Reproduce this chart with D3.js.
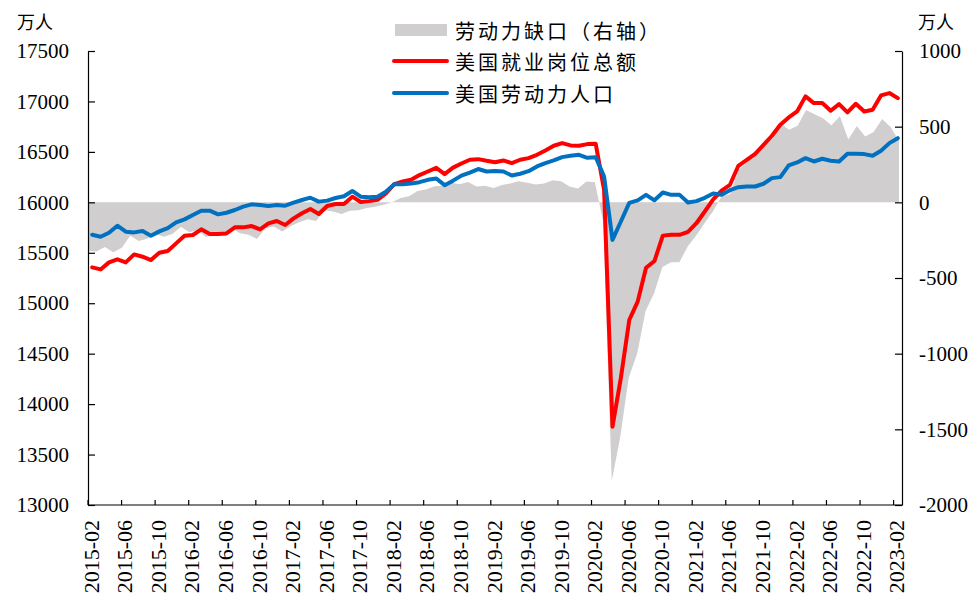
<!DOCTYPE html>
<html><head><meta charset="utf-8">
<script src="https://cdn.jsdelivr.net/npm/d3@7"></script>
<style>
html,body{margin:0;padding:0;background:#fff;}
svg{display:block;}
</style></head><body>
<svg id="chart" width="980" height="601"></svg>
<script>
const months = [
"2015-02","2015-03","2015-04","2015-05","2015-06","2015-07","2015-08","2015-09","2015-10","2015-11","2015-12",
"2016-01","2016-02","2016-03","2016-04","2016-05","2016-06","2016-07","2016-08","2016-09","2016-10","2016-11","2016-12",
"2017-01","2017-02","2017-03","2017-04","2017-05","2017-06","2017-07","2017-08","2017-09","2017-10","2017-11","2017-12",
"2018-01","2018-02","2018-03","2018-04","2018-05","2018-06","2018-07","2018-08","2018-09","2018-10","2018-11","2018-12",
"2019-01","2019-02","2019-03","2019-04","2019-05","2019-06","2019-07","2019-08","2019-09","2019-10","2019-11","2019-12",
"2020-01","2020-02","2020-03","2020-04","2020-05","2020-06","2020-07","2020-08","2020-09","2020-10","2020-11","2020-12",
"2021-01","2021-02","2021-03","2021-04","2021-05","2021-06","2021-07","2021-08","2021-09","2021-10","2021-11","2021-12",
"2022-01","2022-02","2022-03","2022-04","2022-05","2022-06","2022-07","2022-08","2022-09","2022-10","2022-11","2022-12",
"2023-01","2023-02"];

// 美国就业岗位总额 (万人, left axis)
const jobs = [
15355,15335,15405,15435,15405,15484,15461,15428,15501,15517,15593,
15669,15676,15732,15686,15686,15692,15752,15752,15765,15732,15792,15815,
15775,15841,15891,15934,15884,15964,15983,15983,16056,16003,16012,16025,
16088,16180,16207,16223,16270,16306,16342,16280,16344,16385,16422,16428,
16412,16398,16415,16389,16422,16438,16471,16514,16561,16587,16564,16561,
16577,16580,16124,13776,14260,14834,15016,15352,15418,15670,15678,15678,
15708,15793,15909,16030,16115,16174,16362,16422,16481,16570,16660,16769,
16842,16901,17050,16984,16984,16908,16974,16891,16977,16901,16918,17060,
17083,17033];

// 美国劳动力人口 (万人, left axis)
const laborForce = [
15679,15659,15699,15768,15709,15702,15716,15669,15712,15745,15802,
15831,15874,15917,15917,15881,15897,15924,15957,15980,15974,15964,15974,
15967,15997,16023,16046,16007,16017,16043,16060,16112,16056,16050,16055,
16104,16180,16178,16187,16200,16223,16236,16170,16215,16265,16295,16330,
16306,16310,16306,16266,16283,16309,16356,16389,16415,16448,16461,16471,
16441,16448,16256,15628,15810,15995,16020,16074,16020,16097,16074,16074,
15998,16012,16045,16088,16075,16120,16150,16157,16157,16184,16240,16250,
16366,16395,16438,16405,16432,16412,16405,16481,16481,16478,16461,16511,
16587,16636];

// 劳动力缺口 (万人, right axis)
const gap = [
-320,-325,-295,-330,-300,-220,-255,-240,-210,-228,-210,
-162,-198,-185,-230,-195,-205,-172,-205,-215,-242,-172,-159,
-192,-156,-132,-112,-123,-53,-60,-77,-56,-53,-38,-30,
-16,0,29,40,75,85,106,110,129,120,135,105,
110,95,115,125,139,129,118,125,146,139,105,92,
137,132,-132,-1840,-1550,-1160,-1000,-718,-602,-427,-396,-396,
-290,-219,-136,-58,40,54,212,265,324,386,420,519,
480,506,610,582,556,510,569,415,505,435,465,550,
498,405];

const leftTicks = [13000,13500,14000,14500,15000,15500,16000,16500,17000,17500];
const rightTicks = [-2000,-1500,-1000,-500,0,500,1000];
const xTickLabels = months.filter((d,i)=>i%4===0);
const unitLabel = "万人";
const legendLabels = ["劳动力缺口（右轴）","美国就业岗位总额","美国劳动力人口"];
const colors = {gap:"#D0CECE", jobs:"#FF0000", labor:"#0070C0"};

const L=88, R=902, T=51, B=505;
const svg = d3.select("#chart");
const numFont = "'Liberation Serif','Times New Roman',serif";
const cjkFont = "'Noto Sans CJK SC','Noto Sans CJK JP',sans-serif";

const x = d3.scaleBand().domain(months).range([L,R]).padding(0);
const cx = m => x(m) + x.bandwidth()/2;
const xArea = d3.scalePoint().domain(months).range([L, R-3]);
const yL = d3.scaleLinear().domain([13000,17500]).range([B,T]);
const yR = d3.scaleLinear().domain([-2000,1000]).range([B,T]);

// area
svg.append("path")
  .datum(months.map((m,i)=>({m, v:gap[i]})))
  .attr("fill", colors.gap)
  .attr("d", d3.area().x(d=>xArea(d.m)).y0(yR(0)).y1(d=>yR(d.v)));

// lines
const line = d3.line().x(d=>cx(d.m)).y(d=>yL(d.v));
svg.append("path")
  .datum(months.map((m,i)=>({m, v:jobs[i]})))
  .attr("fill","none").attr("stroke",colors.jobs).attr("stroke-width",4)
  .attr("stroke-linejoin","round").attr("stroke-linecap","round")
  .attr("d", line);
svg.append("path")
  .datum(months.map((m,i)=>({m, v:laborForce[i]})))
  .attr("fill","none").attr("stroke",colors.labor).attr("stroke-width",4)
  .attr("stroke-linejoin","round").attr("stroke-linecap","round")
  .attr("d", line);

// left axis
const gL = svg.append("g").attr("transform",`translate(${L},0)`)
  .call(d3.axisLeft(yL).tickValues(leftTicks).tickSize(-7).tickSizeOuter(0).tickPadding(19).tickFormat(d3.format("d")));
// right axis
const gR = svg.append("g").attr("transform",`translate(${R},0)`)
  .call(d3.axisRight(yR).tickValues(rightTicks).tickSize(-7).tickSizeOuter(0).tickPadding(17).tickFormat(d3.format("d")));
[gL,gR].forEach(g=>{
  g.selectAll("path.domain").attr("stroke","#000").attr("stroke-width",1.2);
  g.selectAll(".tick line").attr("stroke","#000").attr("stroke-width",1.2);
  g.selectAll(".tick text").attr("fill","#000").style("font-family",numFont).style("font-size","21px");
});
gR.selectAll(".tick text").text(d=> d<0 ? "-"+Math.abs(d) : d);

// bottom axis
const gB = svg.append("g");
gB.append("line").attr("x1",L).attr("x2",R).attr("y1",B).attr("y2",B)
  .attr("stroke","#000").attr("stroke-width",1.2);
gB.selectAll("line.tk").data(xTickLabels).enter().append("line").attr("class","tk")
  .attr("x1",d=>x(d)).attr("x2",d=>x(d)).attr("y1",B).attr("y2",B-5)
  .attr("stroke","#000").attr("stroke-width",1.2);
gB.selectAll("text").data(xTickLabels).enter().append("text")
  .attr("transform",d=>`translate(${cx(d)-1},${B+15}) rotate(-90)`)
  .attr("text-anchor","end").attr("dominant-baseline","central")
  .style("font-family",numFont).style("font-size","22px").attr("fill","#000")
  .text(d=>d);

// unit labels
svg.append("text").attr("x",17).attr("y",21).attr("dominant-baseline","central")
  .style("font-family",cjkFont).style("font-size","18px").text(unitLabel);
svg.append("text").attr("x",918).attr("y",21).attr("dominant-baseline","central")
  .style("font-family",cjkFont).style("font-size","18px").text(unitLabel);

// legend
const lg = svg.append("g");
const legY = [30,61,93];
lg.append("rect").attr("x",395).attr("y",legY[0]-6).attr("width",52).attr("height",12).attr("fill",colors.gap);
lg.append("line").attr("x1",394).attr("x2",447).attr("y1",legY[1]).attr("y2",legY[1])
  .attr("stroke",colors.jobs).attr("stroke-width",4).attr("stroke-linecap","round");
lg.append("line").attr("x1",394).attr("x2",447).attr("y1",legY[2]).attr("y2",legY[2])
  .attr("stroke",colors.labor).attr("stroke-width",4).attr("stroke-linecap","round");
lg.selectAll("text").data(legendLabels).enter().append("text")
  .attr("x",455).attr("y",(d,i)=>legY[i]).attr("dominant-baseline","central")
  .style("font-family",cjkFont).style("font-size","20px").style("letter-spacing","3px")
  .attr("fill","#000").text(d=>d);
</script>
</body></html>
